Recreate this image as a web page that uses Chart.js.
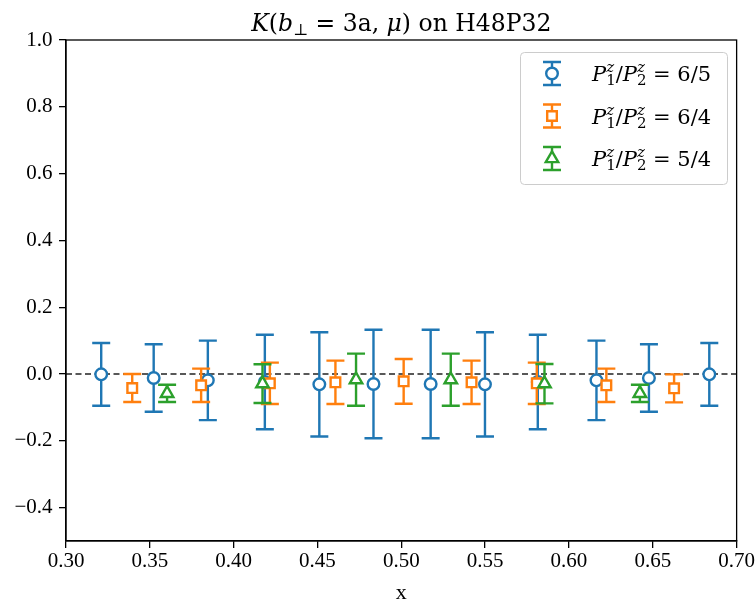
<!DOCTYPE html>
<html>
<head>
<meta charset="utf-8">
<script src="https://cdn.jsdelivr.net/npm/chart.js@4/dist/chart.umd.min.js"></script>
<style>
  html, body { margin: 0; padding: 0; background: #ffffff; }
  #c { display: block; }
</style>
</head>
<body>
<canvas id="c" width="756" height="606"></canvas>
<script>
// ---- data ----
const xTickValues = [0.30, 0.35, 0.40, 0.45, 0.50, 0.55, 0.60, 0.65, 0.70];
const yTickValues = [-0.4, -0.2, 0.0, 0.2, 0.4, 0.6, 0.8, 1.0];

const seriesNames = ['6/5', '6/4', '5/4'];

const xBlue = [0.321, 0.3523, 0.3846, 0.4186, 0.4511, 0.4834, 0.5175, 0.5499, 0.5814, 0.6164, 0.6477, 0.6837];
const yBlue = [-0.001, -0.012, -0.019, -0.024, -0.031, -0.030, -0.030, -0.031, -0.024, -0.019, -0.012, -0.001];
const eBlue = [0.094, 0.101, 0.119, 0.1415, 0.156, 0.1625, 0.1625, 0.156, 0.1415, 0.119, 0.101, 0.094];

const xOrange = [0.3395, 0.3806, 0.4216, 0.4607, 0.5014, 0.5419, 0.5808, 0.6223, 0.6627];
const yOrange = [-0.042, -0.034, -0.028, -0.025, -0.022, -0.025, -0.028, -0.034, -0.043];
const eOrange = [0.042, 0.050, 0.062, 0.065, 0.067, 0.065, 0.062, 0.050, 0.042];

const xGreen = [0.3603, 0.4172, 0.473, 0.5295, 0.5854, 0.6423];
const yGreen = [-0.058, -0.029, -0.017, -0.017, -0.029, -0.058];
const eGreen = [0.026, 0.058, 0.078, 0.078, 0.059, 0.026];

const zeroLineX = [0.30, 0.70];

// ---- helpers ----
const pts = (xs, ys) => xs.map((x, i) => ({ x: x, y: ys[i] }));
const C_BLUE = '#1f77b4', C_ORANGE = '#ff7f0e', C_GREEN = '#2ca02c';
const TICK_FONT = 'Liberation Serif';
const MATH_FONT = 'DejaVu Serif';
const CAP = 9;
const LW = 2.4;

const errorBars = {
  id: 'errorBars',
  beforeDatasetDraw(chart, args) {
    const ds = chart.data.datasets[args.index];
    if (!ds.errors) return;
    const ctx = chart.ctx, xs = chart.scales.x, ys = chart.scales.y;
    ctx.save();
    ctx.strokeStyle = ds.borderColor;
    ctx.lineWidth = LW;
    ds.data.forEach((p, i) => {
      const px = xs.getPixelForValue(p.x);
      const y1 = ys.getPixelForValue(p.y + ds.errors[i]);
      const y2 = ys.getPixelForValue(p.y - ds.errors[i]);
      ctx.beginPath();
      ctx.moveTo(px, y1); ctx.lineTo(px, y2);
      ctx.moveTo(px - CAP, y1); ctx.lineTo(px + CAP, y1);
      ctx.moveTo(px - CAP, y2); ctx.lineTo(px + CAP, y2);
      ctx.stroke();
    });
    ctx.restore();
  }
};

function drawSegments(ctx, segs, x, baseline, measureOnly) {
  let cx = x;
  for (const s of segs) {
    if (s.stack) {
      let w = 0;
      for (const part of s.stack) {
        ctx.font = part.font;
        const mw = ctx.measureText(part.t).width;
        if (!measureOnly) ctx.fillText(part.t, cx, baseline + part.dy);
        w = Math.max(w, mw);
      }
      cx += w;
    } else {
      ctx.font = s.font;
      const mw = ctx.measureText(s.t).width;
      if (!measureOnly) ctx.fillText(s.t, cx, baseline + (s.dy || 0));
      cx += mw + (s.after || 0);
    }
  }
  return cx - x;
}

const titlePlugin = {
  id: 'mathTitle',
  afterDraw(chart) {
    const ctx = chart.ctx, a = chart.chartArea;
    const fs = 23.5;
    const n = fs + 'px "' + MATH_FONT + '"';
    const it = 'italic ' + fs + 'px "' + MATH_FONT + '"';
    const sm = Math.round(fs * 0.7) + 'px "' + MATH_FONT + '"';
    const segs = [
      { t: 'K', font: it },
      { t: '(', font: n },
      { t: 'b', font: it },
      { t: '\u22A5', font: sm, dy: 4 },
      { t: ' = 3a, ', font: n },
      { t: '\u03BC', font: it },
      { t: ')', font: n },
      { t: ' on H48P32', font: n }
    ];
    ctx.save();
    ctx.fillStyle = '#000';
    ctx.textBaseline = 'alphabetic';
    ctx.textAlign = 'left';
    const w = drawSegments(ctx, segs, 0, 0, true);
    drawSegments(ctx, segs, (a.left + a.right) / 2 - w / 2, 30.5, false);
    ctx.restore();
  }
};

const framePlugin = {
  id: 'frame',
  afterDatasetsDraw(chart) {
    const ctx = chart.ctx, a = chart.chartArea;
    ctx.save();
    ctx.strokeStyle = '#000';
    ctx.lineWidth = 1.3;
    ctx.strokeRect(a.left, a.top, a.right - a.left, a.bottom - a.top);
    ctx.restore();
  }
};

const legendPlugin = {
  id: 'mathLegend',
  afterDraw(chart) {
    const ctx = chart.ctx;
    const box = { x: 520, y: 52, w: 207, h: 132 };
    ctx.save();
    ctx.beginPath();
    ctx.roundRect(box.x + 0.5, box.y + 0.5, box.w, box.h, 4);
    ctx.fillStyle = 'rgba(255,255,255,0.8)';
    ctx.fill();
    ctx.strokeStyle = '#cccccc';
    ctx.lineWidth = 1;
    ctx.stroke();
    const rows = [73.5, 116, 158.5];
    const fs = 21;
    const n = fs + 'px "' + MATH_FONT + '"';
    const it = 'italic ' + fs + 'px "' + MATH_FONT + '"';
    const smi = 'italic ' + Math.round(fs * 0.7) + 'px "' + MATH_FONT + '"';
    const sm = Math.round(fs * 0.7) + 'px "' + MATH_FONT + '"';
    chart.data.datasets.forEach((ds) => {
      if (!ds.errors) return;
      const cy = rows[ds.legendRow];
      const cx = 552;
      ctx.strokeStyle = ds.borderColor;
      ctx.lineWidth = LW;
      ctx.beginPath();
      ctx.moveTo(cx, cy - 11.5); ctx.lineTo(cx, cy + 11.5);
      ctx.moveTo(cx - CAP, cy - 11.5); ctx.lineTo(cx + CAP, cy - 11.5);
      ctx.moveTo(cx - CAP, cy + 11.5); ctx.lineTo(cx + CAP, cy + 11.5);
      ctx.stroke();
      ctx.fillStyle = '#ffffff';
      Chart.helpers.drawPoint(ctx, { pointStyle: ds.pointStyle, radius: ds.pointRadius, borderWidth: LW, rotation: 0 }, cx, cy);
      ctx.fillStyle = '#000';
      ctx.textBaseline = 'alphabetic';
      ctx.textAlign = 'left';
      const segs = [
        { t: 'P', font: it },
        { stack: [{ t: 'z', font: smi, dy: -9 }, { t: '1', font: sm, dy: 4 }] },
        { t: '/', font: n },
        { t: 'P', font: it },
        { stack: [{ t: 'z', font: smi, dy: -9 }, { t: '2', font: sm, dy: 4 }] },
        { t: ' = ' + ds.label, font: n }
      ];
      drawSegments(ctx, segs, 592, cy + 7.5, false);
    });
    ctx.restore();
  }
};

const minusFmt = (v, d) => {
  const s = Math.abs(v) < 1e-9 ? (0).toFixed(d) : v.toFixed(d);
  return s.replace('-', '\u2212');
};

new Chart(document.getElementById('c'), {
  type: 'scatter',
  data: {
    datasets: [
      {
        label: seriesNames[0], data: pts(xBlue, yBlue), errors: eBlue, legendRow: 0,
        borderColor: C_BLUE, backgroundColor: '#ffffff', pointStyle: 'circle',
        pointRadius: 5.8, pointBorderWidth: LW, pointHoverRadius: 5.8, order: 3
      },
      {
        label: seriesNames[1], data: pts(xOrange, yOrange), errors: eOrange, legendRow: 1,
        borderColor: C_ORANGE, backgroundColor: '#ffffff', pointStyle: 'rect',
        pointRadius: 6.8, pointBorderWidth: LW, pointHoverRadius: 6.8, order: 2
      },
      {
        label: seriesNames[2], data: pts(xGreen, yGreen), errors: eGreen, legendRow: 2,
        borderColor: C_GREEN, backgroundColor: '#ffffff', pointStyle: 'triangle',
        pointRadius: 7.2, pointBorderWidth: LW, pointHoverRadius: 7.2, order: 1
      },
      {
        type: 'line', label: 'zero', data: zeroLineX.map(x => ({ x: x, y: 0 })),
        borderColor: '#222222', borderWidth: 1.5, borderDash: [6, 3.5],
        pointRadius: 0, fill: false, order: 4
      }
    ]
  },
  options: {
    responsive: false,
    animation: false,
    devicePixelRatio: 1,
    layout: { padding: { top: 40, right: 19, left: 0, bottom: 0 } },
    plugins: {
      legend: { display: false },
      title: { display: false },
      tooltip: { enabled: false }
    },
    scales: {
      x: {
        type: 'linear', min: 0.30, max: 0.70,
        afterBuildTicks: s => { s.ticks = xTickValues.map(v => ({ value: v })); },
        afterFit: s => { s.height = 65; },
        ticks: {
          callback: v => minusFmt(v, 2),
          font: { family: TICK_FONT, size: 21 }, color: '#000', padding: 1,
          maxRotation: 0, autoSkip: false
        },
        grid: { drawOnChartArea: false, drawTicks: true, tickLength: 7, color: '#000', lineWidth: 1.3 },
        border: { display: true, color: '#000', width: 1.3 },
        title: {
          display: true, text: 'x', color: '#000',
          font: { family: TICK_FONT, size: 22, lineHeight: 1.2 }, padding: { top: 0, bottom: 0 }
        }
      },
      y: {
        type: 'linear', min: -0.5, max: 1.0,
        afterBuildTicks: s => { s.ticks = yTickValues.map(v => ({ value: v })); },
        afterFit: s => { s.width = 66; },
        ticks: {
          callback: v => minusFmt(v, 1),
          font: { family: TICK_FONT, size: 21 }, color: '#000', padding: 6.5, autoSkip: false
        },
        grid: { drawOnChartArea: false, drawTicks: true, tickLength: 7, color: '#000', lineWidth: 1.3 },
        border: { display: true, color: '#000', width: 1.3 }
      }
    }
  },
  plugins: [errorBars, framePlugin, titlePlugin, legendPlugin]
});
</script>
</body>
</html>
